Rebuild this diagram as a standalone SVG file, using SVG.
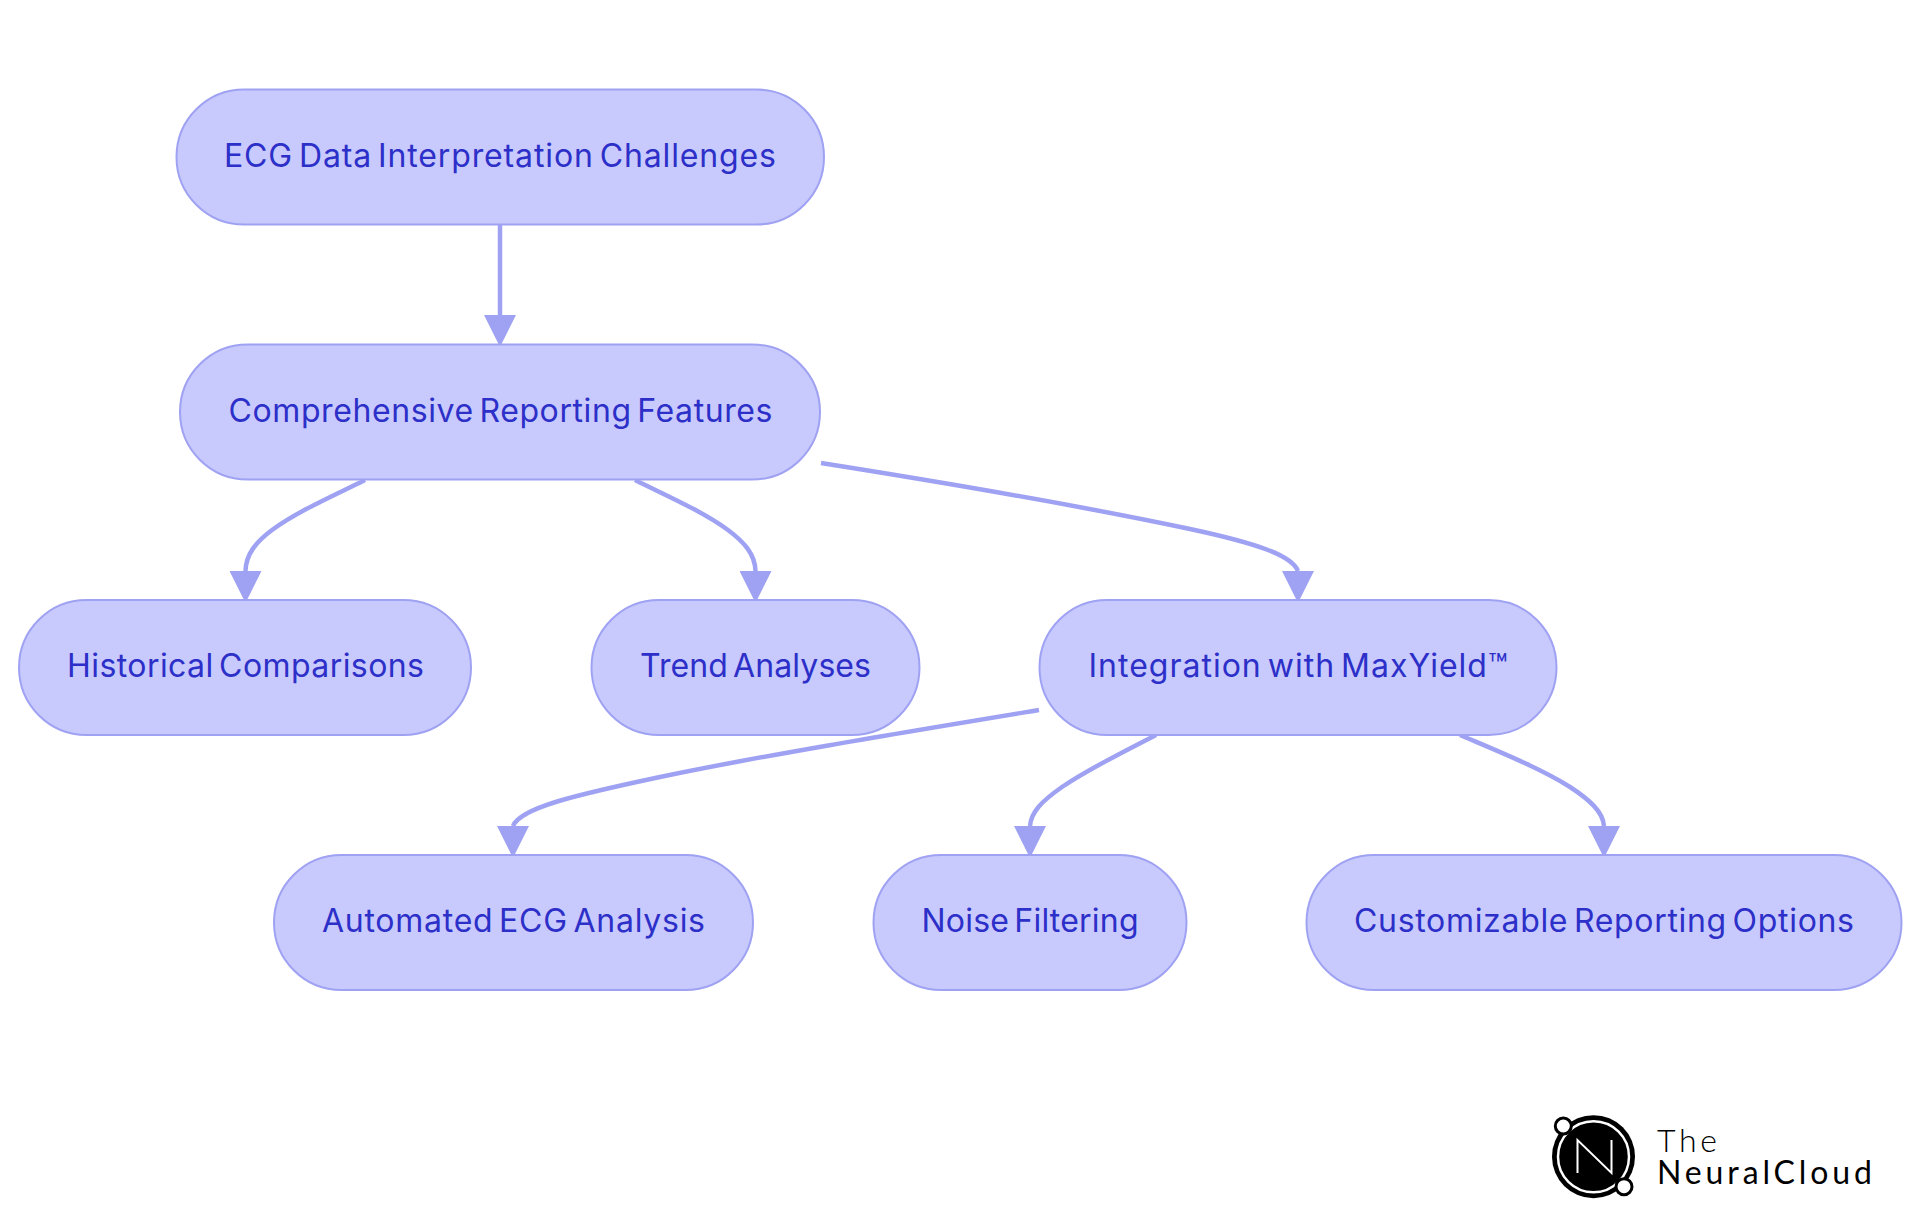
<svg xmlns="http://www.w3.org/2000/svg" width="1920" height="1215" viewBox="0 0 1920 1215">
<style>
.n{fill:#c8c9fd;stroke:#9fa2f2;stroke-width:2}
.t{font-family:"Inter","Liberation Sans",sans-serif;font-size:32px;fill:#2c2fc8;text-anchor:middle;word-spacing:-4px}
.e{fill:none;stroke:#9fa2f2;stroke-width:4.500}
.l{font-family:"Lato","Liberation Sans",sans-serif;fill:#000}
</style>
<defs>
<marker id="a" markerUnits="userSpaceOnUse" markerWidth="32" markerHeight="32" refX="0" refY="15" orient="90" viewBox="0 0 30 30"><path d="M0 0L30 15L0 30Z" fill="#9fa2f2"/></marker>
</defs>
<rect width="1920" height="1215" fill="#fff"/>
<g id="connectors">
<path class="e" marker-end="url(#a)" d="M500 224V315"/>
<path class="e" marker-end="url(#a)" d="M365 480C335 495 298 511 272 530C256 542 246 554 245.500 571"/>
<path class="e" marker-end="url(#a)" d="M635 480C665 495 702 511 728 530C744 542 755 554 755.500 571"/>
<path class="e" marker-end="url(#a)" d="M821 463C960 485 1100 510 1190 529C1260 544 1292 556 1298 571"/>
<path class="e" marker-end="url(#a)" d="M1039 710C900 733 760 756 660 777C575 795 520 808 513 826"/>
<path class="e" marker-end="url(#a)" d="M1156 735C1125 751 1090 768 1062 787C1042 801 1031 812 1030 826"/>
<path class="e" marker-end="url(#a)" d="M1460 735C1495 750 1540 768 1570 787C1590 800 1603 812 1604 826"/>
</g>
<g id="n1"><rect class="n" x="176.500" y="89.500" width="647.500" height="135" rx="67.500"/><text class="t" x="500" y="167" textLength="552">ECG Data Interpretation Challenges</text></g>
<g id="n2"><rect class="n" x="180" y="344.500" width="640" height="135" rx="67.500"/><text class="t" x="500.500" y="422" textLength="544">Comprehensive Reporting Features</text></g>
<g id="n3"><rect class="n" x="19" y="600" width="452" height="135" rx="67.500"/><text class="t" x="245.500" y="677" textLength="357">Historical Comparisons</text></g>
<g id="n4"><rect class="n" x="591.500" y="600" width="328" height="135" rx="67.500"/><text class="t" x="755.500" y="677" textLength="231">Trend Analyses</text></g>
<g id="n5"><rect class="n" x="1039.500" y="600" width="517" height="135" rx="67.500"/><text class="t" x="1298" y="677" textLength="419">Integration with MaxYield™</text></g>
<g id="n6"><rect class="n" x="274" y="855" width="479" height="135" rx="67.500"/><text class="t" x="513.500" y="932" textLength="383">Automated ECG Analysis</text></g>
<g id="n7"><rect class="n" x="873.500" y="855" width="313" height="135" rx="67.500"/><text class="t" x="1030" y="932" textLength="217">Noise Filtering</text></g>
<g id="n8"><rect class="n" x="1306.500" y="855" width="595" height="135" rx="67.500"/><text class="t" x="1604" y="932" textLength="500">Customizable Reporting Options</text></g>
<g id="logo">
<circle cx="1593.500" cy="1156.700" r="41.500" fill="#000"/>
<circle cx="1593.500" cy="1156.700" r="35.500" fill="none" stroke="#fff" stroke-width="2.500"/>
<circle cx="1563.300" cy="1126" r="8" fill="#fff" stroke="#000" stroke-width="3"/>
<circle cx="1624" cy="1186.700" r="8" fill="#fff" stroke="#000" stroke-width="3"/>
<path d="M1577.500 1173V1140L1611.500 1173V1140" fill="none" stroke="#fff" stroke-width="2"/>
<text class="l" x="1657" y="1152" font-size="32" font-weight="300" textLength="60">The</text>
<text class="l" x="1657" y="1184" font-size="32" font-weight="400" textLength="215">NeuralCloud</text>
</g>
</svg>
